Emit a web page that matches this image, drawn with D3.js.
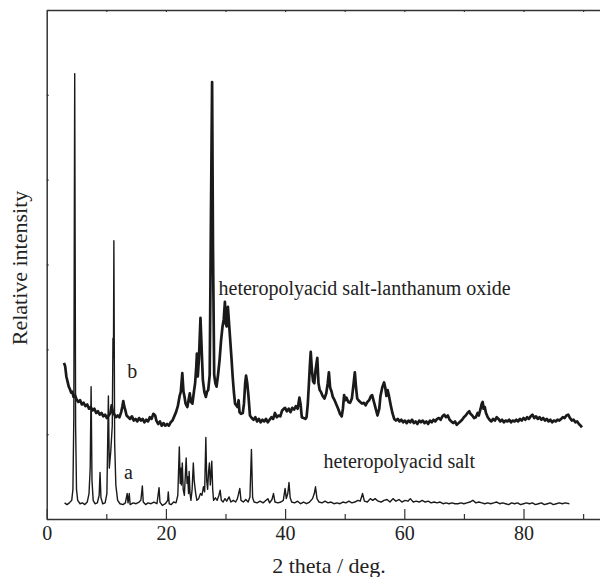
<!DOCTYPE html>
<html>
<head>
<meta charset="utf-8">
<script src="https://cdn.jsdelivr.net/npm/d3@7/dist/d3.min.js"></script>
<style>
  body { margin: 0; background: #fff; }
  svg { display: block; }
  text { font-family: "Liberation Serif", "Times New Roman", serif; fill: #222; }
</style>
</head>
<body>
<svg id="chart" width="600" height="577"></svg>
<script>
// XRD patterns, 2 theta (deg) vs relative intensity (arbitrary units, 0..6 on the frame)

// a: heteropolyacid salt
var traceA = [
	[3.0,0.19],[3.4,0.17],[3.8,0.19],[4.2,0.22],[4.4,0.35],[4.55,1.2],[4.7,5.25],[4.85,1.1],[5.0,0.35],[5.2,0.22],
	[5.6,0.18],[6.0,0.19],[6.4,0.17],[6.8,0.2],[7.1,0.3],[7.3,0.6],[7.45,1.56],[7.6,0.45],[7.8,0.22],[8.1,0.18],
	[8.5,0.19],[8.8,0.28],[8.95,0.55],[9.1,0.25],[9.4,0.18],[9.8,0.19],[10.1,0.3],[10.35,1.45],[10.5,0.6],[10.75,0.8],
	[11.0,1.1],[11.12,2.13],[11.2,1.9],[11.27,3.28],[11.4,0.9],[11.6,0.4],[11.9,0.22],[12.3,0.18],[12.8,0.17],[13.2,0.19],
	[13.5,0.3],[13.65,0.19],[13.85,0.3],[14.0,0.17],[14.5,0.19],[15.0,0.18],[15.5,0.2],[15.8,0.22],[16.05,0.39],[16.2,0.2],
	[16.6,0.17],[17.0,0.19],[17.5,0.18],[18.0,0.2],[18.5,0.18],[18.85,0.37],[19.0,0.2],[19.4,0.16],[19.9,0.18],[20.3,0.22],
	[20.4,0.32],[20.55,0.18],[20.9,0.17],[21.3,0.2],[21.7,0.19],[22.0,0.28],[22.25,0.85],[22.4,0.42],[22.5,0.6],[22.6,0.4],
	[22.75,0.66],[22.9,0.35],[23.1,0.28],[23.25,0.5],[23.4,0.72],[23.55,0.42],[23.65,0.5],[23.8,0.3],[23.9,0.56],[24.05,0.3],
	[24.2,0.22],[24.4,0.35],[24.6,0.66],[24.75,0.45],[25.0,0.3],[25.2,0.22],[25.5,0.24],[25.8,0.3],[26.05,0.28],[26.3,0.38],
	[26.5,0.32],[26.7,0.96],[26.85,0.45],[27.0,0.35],[27.15,0.55],[27.3,0.66],[27.45,0.4],[27.55,0.5],[27.7,0.68],[27.85,0.35],
	[28.0,0.22],[28.3,0.25],[28.6,0.22],[28.9,0.28],[29.1,0.34],[29.3,0.22],[29.6,0.2],[29.9,0.24],[30.2,0.21],[30.6,0.26],
	[30.9,0.2],[31.3,0.22],[31.7,0.2],[32.0,0.24],[32.4,0.36],[32.6,0.22],[33.0,0.2],[33.4,0.23],[33.8,0.2],[34.1,0.26],
	[34.35,0.82],[34.55,0.25],[34.8,0.2],[35.3,0.19],[35.8,0.21],[36.3,0.19],[36.8,0.22],[37.1,0.24],[37.4,0.19],[37.8,0.23],
	[38.05,0.3],[38.3,0.2],[38.8,0.19],[39.3,0.2],[39.7,0.22],[40.0,0.36],[40.2,0.24],[40.45,0.3],[40.65,0.43],[40.85,0.25],
	[41.1,0.2],[41.6,0.19],[42.1,0.21],[42.6,0.18],[43.1,0.2],[43.6,0.18],[44.1,0.2],[44.6,0.24],[44.9,0.3],[45.1,0.38],
	[45.35,0.24],[45.7,0.2],[46.2,0.19],[46.7,0.21],[47.2,0.19],[47.7,0.2],[48.2,0.18],[48.7,0.19],[49.2,0.18],[49.7,0.2],
	[50.2,0.19],[50.7,0.21],[51.2,0.19],[51.7,0.2],[52.2,0.22],[52.6,0.21],[53.0,0.3],[53.3,0.21],[53.8,0.2],[54.3,0.24],
	[54.7,0.22],[55.1,0.24],[55.6,0.21],[56.1,0.2],[56.6,0.22],[57.1,0.23],[57.6,0.2],[58.1,0.24],[58.6,0.21],[59.1,0.23],
	[59.6,0.2],[60.1,0.22],[60.6,0.21],[61.0,0.24],[61.5,0.2],[62.0,0.21],[62.5,0.2],[63.0,0.22],[63.5,0.2],[64.0,0.21],
	[64.5,0.19],[65.0,0.2],[65.5,0.19],[66.0,0.2],[66.5,0.18],[67.0,0.19],[67.5,0.18],[68.0,0.19],[68.5,0.18],[69.0,0.18],
	[69.5,0.19],[70.0,0.18],[70.5,0.19],[71.0,0.2],[71.5,0.22],[72.0,0.19],[72.5,0.2],[73.0,0.19],[73.5,0.18],[74.0,0.19],
	[74.5,0.18],[75.0,0.19],[75.5,0.2],[76.0,0.18],[76.5,0.19],[77.0,0.18],[77.5,0.17],[78.0,0.19],[78.5,0.18],[79.0,0.19],
	[79.5,0.17],[80.0,0.18],[80.5,0.19],[81.0,0.18],[81.5,0.19],[82.0,0.17],[82.5,0.18],[83.0,0.19],[83.5,0.17],[84.0,0.18],
	[84.5,0.19],[85.0,0.17],[85.5,0.18],[86.0,0.19],[86.5,0.18],[87.0,0.19],[87.7,0.18]
];

// b: heteropolyacid salt-lanthanum oxide
var traceB = [
	[2.9,1.84],[3.1,1.8],[3.3,1.68],[3.5,1.62],[3.7,1.56],[3.9,1.53],[4.1,1.49],[4.3,1.5],[4.5,1.44],[4.75,1.46],
	[5.0,1.41],[5.3,1.38],[5.6,1.4],[5.9,1.35],[6.2,1.37],[6.5,1.33],[6.8,1.35],[7.1,1.3],[7.4,1.32],[7.7,1.28],
	[8.0,1.3],[8.3,1.25],[8.6,1.27],[8.9,1.23],[9.2,1.25],[9.5,1.21],[9.8,1.23],[10.1,1.19],[10.4,1.22],[10.7,1.25],
	[10.9,1.34],[11.05,1.28],[11.3,1.24],[11.6,1.2],[11.9,1.22],[12.2,1.2],[12.5,1.26],[12.7,1.33],[12.85,1.39],[13.0,1.33],
	[13.2,1.28],[13.4,1.22],[13.7,1.2],[14.0,1.18],[14.3,1.21],[14.6,1.16],[14.9,1.18],[15.2,1.15],[15.5,1.19],[15.8,1.16],
	[16.1,1.18],[16.4,1.14],[16.7,1.17],[17.0,1.15],[17.3,1.2],[17.6,1.18],[17.9,1.24],[18.2,1.22],[18.4,1.16],[18.7,1.12],
	[19.0,1.15],[19.3,1.1],[19.6,1.13],[19.9,1.1],[20.2,1.12],[20.5,1.1],[20.8,1.14],[21.1,1.16],[21.4,1.21],[21.7,1.26],
	[22.0,1.33],[22.3,1.45],[22.5,1.5],[22.75,1.72],[22.95,1.5],[23.1,1.45],[23.3,1.36],[23.6,1.32],[23.8,1.4],[24.0,1.48],
	[24.2,1.38],[24.45,1.36],[24.7,1.5],[24.9,1.6],[25.1,1.8],[25.2,1.95],[25.35,1.68],[25.55,1.9],[25.8,2.37],[26.0,2.0],
	[26.2,1.64],[26.45,1.5],[26.7,1.44],[26.9,1.5],[27.1,1.52],[27.35,1.7],[27.55,3.5],[27.75,5.15],[27.9,3.2],[28.1,1.7],
	[28.3,1.6],[28.5,1.56],[28.75,1.7],[29.0,1.87],[29.25,2.1],[29.5,2.27],[29.7,2.35],[29.9,2.56],[30.05,2.3],[30.2,2.27],
	[30.4,2.5],[30.55,2.35],[30.75,2.15],[31.0,1.9],[31.2,1.68],[31.4,1.5],[31.6,1.36],[31.8,1.34],[32.0,1.32],[32.2,1.4],
	[32.35,1.26],[32.6,1.24],[32.9,1.25],[33.1,1.36],[33.3,1.6],[33.45,1.69],[33.65,1.6],[33.85,1.45],[34.1,1.22],[34.4,1.19],
	[34.7,1.17],[35.0,1.2],[35.3,1.15],[35.6,1.18],[35.9,1.14],[36.2,1.17],[36.5,1.15],[36.8,1.18],[37.1,1.14],[37.4,1.17],
	[37.7,1.2],[38.0,1.18],[38.3,1.25],[38.6,1.2],[38.9,1.22],[39.2,1.21],[39.5,1.28],[39.8,1.3],[40.0,1.31],[40.3,1.27],
	[40.6,1.3],[40.9,1.26],[41.2,1.31],[41.5,1.29],[41.8,1.33],[42.1,1.3],[42.4,1.43],[42.6,1.35],[42.8,1.2],[43.1,1.19],
	[43.4,1.18],[43.6,1.2],[43.8,1.35],[44.0,1.6],[44.15,1.8],[44.3,1.97],[44.5,1.75],[44.7,1.62],[44.9,1.6],[45.1,1.75],
	[45.4,1.9],[45.6,1.6],[45.8,1.52],[46.0,1.5],[46.3,1.45],[46.6,1.42],[46.9,1.48],[47.15,1.6],[47.35,1.73],[47.55,1.55],
	[47.8,1.5],[48.0,1.44],[48.3,1.4],[48.6,1.35],[48.9,1.3],[49.2,1.24],[49.5,1.21],[49.7,1.3],[49.9,1.46],[50.1,1.4],
	[50.3,1.43],[50.6,1.38],[50.9,1.37],[51.2,1.42],[51.5,1.6],[51.7,1.73],[51.9,1.55],[52.1,1.42],[52.3,1.4],[52.6,1.38],
	[52.9,1.36],[53.2,1.37],[53.5,1.34],[53.8,1.38],[54.1,1.4],[54.4,1.45],[54.6,1.46],[54.9,1.38],[55.2,1.3],[55.5,1.22],
	[55.8,1.3],[56.0,1.45],[56.3,1.55],[56.6,1.61],[56.8,1.55],[57.0,1.45],[57.2,1.52],[57.4,1.46],[57.7,1.35],[58.0,1.25],
	[58.3,1.18],[58.6,1.16],[58.9,1.18],[59.2,1.15],[59.5,1.17],[59.8,1.14],[60.1,1.16],[60.4,1.13],[60.7,1.16],[61.0,1.14],
	[61.3,1.17],[61.6,1.13],[61.9,1.15],[62.2,1.12],[62.5,1.16],[62.8,1.14],[63.1,1.16],[63.4,1.13],[63.7,1.15],[64.0,1.12],
	[64.3,1.16],[64.6,1.14],[64.9,1.17],[65.2,1.15],[65.5,1.18],[65.8,1.19],[66.1,1.17],[66.4,1.21],[66.7,1.23],[67.0,1.2],
	[67.3,1.22],[67.6,1.17],[67.9,1.15],[68.2,1.13],[68.5,1.15],[68.8,1.11],[69.1,1.13],[69.4,1.15],[69.7,1.17],[70.0,1.2],
	[70.3,1.22],[70.6,1.25],[70.9,1.27],[71.1,1.24],[71.4,1.22],[71.7,1.19],[72.0,1.2],[72.3,1.25],[72.5,1.22],[72.8,1.3],
	[73.0,1.36],[73.15,1.38],[73.3,1.3],[73.5,1.32],[73.7,1.25],[74.0,1.2],[74.3,1.17],[74.6,1.15],[74.9,1.18],[75.2,1.16],
	[75.5,1.2],[75.8,1.18],[76.1,1.15],[76.4,1.17],[76.7,1.14],[77.0,1.16],[77.3,1.15],[77.6,1.17],[77.9,1.14],[78.2,1.16],
	[78.5,1.15],[78.8,1.17],[79.1,1.15],[79.4,1.18],[79.7,1.16],[80.0,1.19],[80.3,1.17],[80.6,1.2],[80.9,1.18],[81.2,1.21],
	[81.5,1.23],[81.8,1.19],[82.1,1.21],[82.4,1.18],[82.7,1.2],[83.0,1.17],[83.3,1.19],[83.6,1.16],[83.9,1.18],[84.2,1.15],
	[84.5,1.17],[84.8,1.14],[85.1,1.16],[85.4,1.15],[85.7,1.17],[86.0,1.16],[86.3,1.18],[86.6,1.2],[86.9,1.19],[87.2,1.22],
	[87.5,1.23],[87.8,1.19],[88.1,1.16],[88.4,1.17],[88.7,1.14],[89.0,1.15],[89.3,1.12],[89.6,1.1],[89.8,1.08]
];

var xMajorTicks = [0, 20, 40, 60, 80];
var xMinorTicks = [10, 30, 50, 70, 90];
var xTopTicks = [10, 20, 30, 40, 50, 60, 70, 80, 90];
var yTicks = [0, 1, 2, 3, 4, 5, 6];

// label text and where it sits, in data units
var seriesLabels = [
	{ text: 'heteropolyacid salt-lanthanum oxide', at: [28.83, 2.64] },
	{ text: 'heteropolyacid salt', at: [46.45, 0.6] },
	{ text: 'b', at: [13.5, 1.66] },
	{ text: 'a', at: [12.98, 0.47] }
];

var svg = d3.select('#chart');

var x = d3.scaleLinear().domain([0, 93]).range([46.7, 601]);
var y = d3.scaleLinear().domain([0, 6]).range([519, 10]);

function styleAxis(g) {
	g.select('.domain').attr('stroke', '#333').attr('stroke-width', 1.5);
	g.selectAll('.tick line').attr('stroke', '#333').attr('stroke-width', 1.2);
	g.selectAll('.tick text')
		.attr('fill', '#222')
		.style('font-family', '"Liberation Serif", "Times New Roman", serif')
		.style('font-size', '20px');
}

// bottom: labelled every 20, short minor ticks in between
svg.append('g')
	.attr('transform', 'translate(0,519)')
	.call(d3.axisBottom(x).tickValues(xMajorTicks).tickSize(-10).tickSizeOuter(0).tickPadding(7))
	.call(styleAxis);

svg.append('g')
	.attr('transform', 'translate(0,519)')
	.call(d3.axisBottom(x).tickValues(xMinorTicks).tickSize(-5).tickSizeOuter(0).tickFormat(''))
	.call(styleAxis)
	.select('.domain').remove();

// top frame line
svg.append('g')
	.attr('transform', 'translate(0,10)')
	.call(d3.axisTop(x).tickValues(xTopTicks).tickSize(-2).tickSizeOuter(0).tickFormat(''))
	.call(styleAxis);

// left: unlabelled ticks
svg.append('g')
	.attr('transform', 'translate(46.7,0)')
	.call(d3.axisLeft(y).tickValues(yTicks).tickSize(-2).tickSizeOuter(0).tickFormat(''))
	.call(styleAxis);

var line = d3.line()
	.x(function(d) { return x(d[0]); })
	.y(function(d) { return y(d[1]); });

svg.append('path')
	.datum(traceA)
	.attr('fill', 'none')
	.attr('stroke', '#1a1a1a')
	.attr('stroke-width', 1.4)
	.attr('stroke-linejoin', 'round')
	.attr('d', line);

// b is a noisy scan, drawn heavier
svg.append('path')
	.datum(traceB)
	.attr('fill', 'none')
	.attr('stroke', '#1a1a1a')
	.attr('stroke-width', 2.7)
	.attr('stroke-linejoin', 'round')
	.attr('d', line);

svg.selectAll('text.series-label')
	.data(seriesLabels)
	.enter().append('text')
	.attr('class', 'series-label')
	.attr('x', function(d) { return x(d.at[0]); })
	.attr('y', function(d) { return y(d.at[1]); })
	.style('font-size', '20px')
	.text(function(d) { return d.text; });

// axis titles
svg.append('text')
	.attr('x', 329)
	.attr('y', 572.7)
	.attr('text-anchor', 'middle')
	.style('font-size', '22px')
	.text('2 theta / deg.');

svg.append('text')
	.attr('transform', 'translate(27,268) rotate(-90)')
	.attr('text-anchor', 'middle')
	.style('font-size', '22px')
	.text('Relative intensity');
</script>
</body>
</html>
